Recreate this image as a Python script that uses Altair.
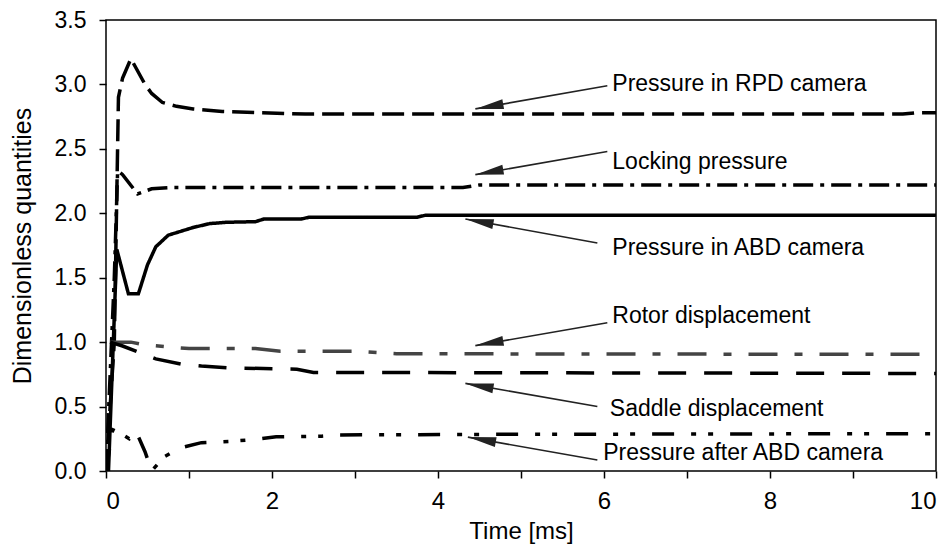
import math
import altair as alt
import pandas as pd

# ---- series data (time in ms, dimensionless value) ----
rpd_t = [0.0, 0.1, 0.15, 0.2, 0.3, 0.47, 0.55, 0.68, 0.85, 1.05, 1.4, 2.4, 9.6, 9.75, 10.0]
rpd_v = [0.0, 1.0, 2.9, 3.05, 3.2, 3.0, 2.93, 2.86, 2.83, 2.81, 2.79, 2.77, 2.77, 2.78, 2.78]

lock_t = [0.0, 0.1, 0.14, 0.2, 0.38, 0.55, 0.8, 4.3, 4.5, 10.0]
lock_v = [0.0, 1.5, 2.33, 2.3, 2.15, 2.19, 2.2, 2.2, 2.22, 2.22]

abd_t = [0.03, 0.13, 0.27, 0.39, 0.5, 0.6, 0.75, 0.9, 1.05, 1.25, 1.45, 1.8, 1.9, 2.35, 2.45, 3.75, 3.85, 10.0]
abd_v = [0.0, 1.72, 1.375, 1.375, 1.6, 1.74, 1.83, 1.86, 1.89, 1.92, 1.93, 1.935, 1.955, 1.955, 1.97, 1.97, 1.985, 1.985]

rotor_t = [0.05, 0.3, 0.45, 0.8, 1.0, 1.8, 2.1, 3.0, 3.5, 10.0]
rotor_v = [1.0, 1.0, 0.98, 0.96, 0.95, 0.95, 0.93, 0.93, 0.91, 0.905]

saddle_t = [0.05, 0.2, 0.4, 0.6, 0.9, 1.15, 1.5, 2.3, 2.5, 10.0]
saddle_v = [1.0, 0.97, 0.92, 0.87, 0.83, 0.815, 0.8, 0.79, 0.765, 0.757]

after_t = [0.0, 0.08, 0.18, 0.28, 0.36, 0.47, 0.55, 0.7, 0.9, 1.15, 1.5, 1.8, 2.05, 2.6, 2.8, 5.0, 10.0]
after_v = [0.0, 0.32, 0.29, 0.25, 0.31, 0.15, 0.0, 0.11, 0.18, 0.22, 0.23, 0.245, 0.265, 0.27, 0.28, 0.285, 0.29]

# ---- annotation labels and arrows (data coordinates) ----
label_texts = ["Pressure in RPD camera", "Locking pressure", "Pressure in ABD camera",
               "Rotor displacement", "Saddle displacement", "Pressure after ABD camera"]
label_t = [6.10, 6.10, 6.10, 6.10, 6.07, 5.99]
label_v = [3.00, 2.40, 1.73, 1.20, 0.48, 0.14]

arrow_t0 = [6.04, 6.04, 5.92, 6.04, 5.92, 5.92]
arrow_v0 = [2.99, 2.48, 1.77, 1.15, 0.50, 0.085]
arrow_t1 = [4.45, 4.45, 4.33, 4.45, 4.33, 4.36]
arrow_v1 = [2.81, 2.30, 1.955, 0.973, 0.68, 0.263]

W, H = 830, 451
X_MAX, Y_MAX = 10.0, 3.5
FONT = "Liberation Sans"

series = [
    (rpd_t, rpd_v, "black", [22, 8], 3.5),
    (lock_t, lock_v, "black", [20, 7, 4, 7], 3.5),
    (abd_t, abd_v, "black", [1, 0], 3.5),
    (rotor_t, rotor_v, "#444444", [29, 17, 8, 17], 3.5),
    (saddle_t, saddle_v, "black", [28, 18], 3.5),
    (after_t, after_v, "black", [22, 17, 5, 12, 5, 17], 3.5),
]

xscale = alt.Scale(domain=[0, X_MAX], nice=False, zero=False)
yscale = alt.Scale(domain=[0, Y_MAX], nice=False, zero=False)

xaxis = alt.Axis(values=list(range(0, 11)), labelExpr="datum.value % 2 == 0 ? datum.label : ''",
                 title="Time [ms]", grid=False, tickSize=7, tickColor="black", tickWidth=1.5,
                 domain=False, labelFontSize=24, titleFontSize=24, labelFont=FONT, titleFont=FONT,
                 titleFontWeight="normal", labelColor="black", titleColor="black",
                 labelPadding=11, titlePadding=6)
yaxis = alt.Axis(values=[0, 0.5, 1, 1.5, 2, 2.5, 3, 3.5], format=".1f",
                 title="Dimensionless quantities", grid=False, tickSize=7, tickColor="black",
                 tickWidth=1.5, domain=False, labelFontSize=23, titleFontSize=25, labelFont=FONT,
                 titleFont=FONT, titleFontWeight="normal", labelColor="black", titleColor="black",
                 labelPadding=13, titlePadding=19)

X = lambda f: alt.X(f, scale=xscale, axis=xaxis)
Y = lambda f: alt.Y(f, scale=yscale, axis=yaxis)

layers = []
for ts, vs, col, dash, sw in series:
    df = pd.DataFrame({"t": ts, "v": vs})
    layers.append(
        alt.Chart(df).mark_line(color=col, strokeDash=dash, strokeWidth=sw, strokeCap="butt",
                                clip=True)
        .encode(x=X("t:Q"), y=Y("v:Q"))
    )

# arrows
adf = pd.DataFrame({"t0": arrow_t0, "v0": arrow_v0, "t1": arrow_t1, "v1": arrow_v1})
angles = []
for a, b, c, d in zip(arrow_t0, arrow_v0, arrow_t1, arrow_v1):
    dx = (c - a) * W / X_MAX
    dy = -(d - b) * H / Y_MAX
    angles.append(math.degrees(math.atan2(dx, -dy)) % 360)
adf["ang"] = angles

arrow_lines = alt.Chart(adf).mark_rule(color="#222222", strokeWidth=1.6).encode(
    x=X("t0:Q"), y=Y("v0:Q"), x2="t1:Q", y2="v1:Q")
arrow_heads = alt.Chart(adf).mark_point(
    shape="M0,0L-0.35,2L0.35,2Z", filled=True, fill="#222222", strokeWidth=0, size=800, opacity=1
).encode(x=X("t1:Q"), y=Y("v1:Q"), angle=alt.Angle("ang:Q", scale=None))

ldf = pd.DataFrame({"t": label_t, "v": label_v, "txt": label_texts})
labels = alt.Chart(ldf).mark_text(align="left", baseline="middle", font=FONT, fontSize=23,
                                  color="black").encode(
    x=X("t:Q"), y=Y("v:Q"), text="txt:N")

chart = alt.layer(*layers, arrow_lines, arrow_heads, labels).properties(
    width=W, height=H, autosize=alt.AutoSizeParams(type="none"), background="white",
    padding={"left": 98, "top": 12, "right": 8, "bottom": 81}
).configure_view(stroke="black", strokeWidth=1.5)

chart.save("out.html", embed_options={"renderer": "svg", "actions": False})
